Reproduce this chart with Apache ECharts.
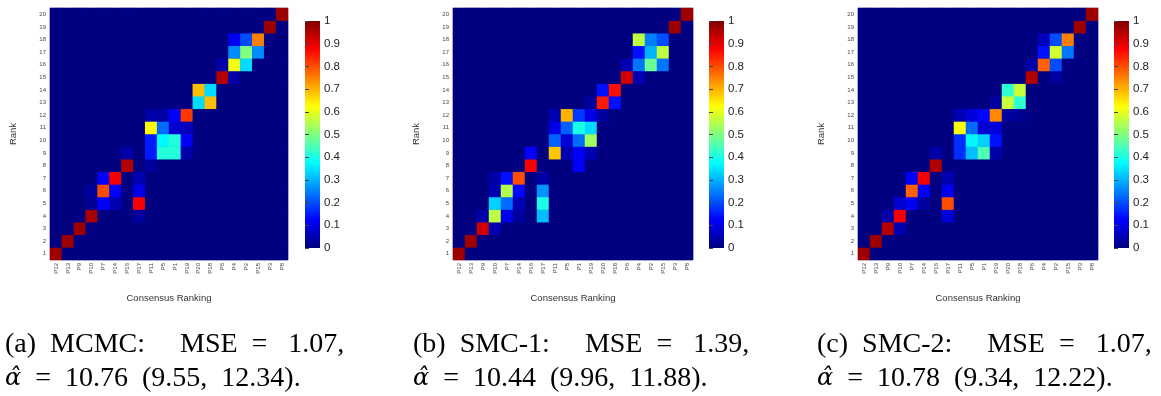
<!DOCTYPE html>
<html lang="en">
<head>
    <meta charset="UTF-8">
    <title>Heatplots</title>
    <script src="https://cdn.jsdelivr.net/npm/echarts@6/dist/echarts.min.js"></script>
    <style type="text/css">
    body { margin: 0; }
    .chart {
        width: 1161px;
        height: 396px;
    }
    </style>
</head>
<body>
    <div id="chart" class="chart"></div>
<script type="text/javascript">
var items = ['P12','P13','P9','P10','P7','P14','P16','P17','P11','P5','P1','P19','P20','P18','P6','P4','P2','P15','P3','P8'];
var ranks = ['1','2','3','4','5','6','7','8','9','10','11','12','13','14','15','16','17','18','19','20'];
var barTicks = [0, 1, 0.1];

// probabilities, only non-zero cells: [item, rank, value]
var mcmc = [
    ['P12',1,0.97],
    ['P13',2,0.97],
    ['P9',3,0.97],
    ['P10',4,0.96],['P17',4,0.03],
    ['P10',5,0.02],['P7',5,0.12],['P14',5,0.05],['P17',5,0.88],
    ['P10',6,0.03],['P7',6,0.8],['P14',6,0.12],['P17',6,0.1],
    ['P7',7,0.12],['P14',7,0.88],['P17',7,0.05],
    ['P16',8,0.95],['P11',8,0.03],
    ['P16',9,0.04],['P11',9,0.15],['P5',9,0.41],['P1',9,0.41],['P19',9,0.04],
    ['P11',10,0.15],['P5',10,0.37],['P1',10,0.41],['P19',10,0.12],
    ['P11',11,0.63],['P5',11,0.23],['P1',11,0.08],['P19',11,0.06],
    ['P11',12,0.04],['P5',12,0.04],['P1',12,0.12],['P19',12,0.82],
    ['P20',13,0.34],['P18',13,0.69],
    ['P20',14,0.69],['P18',14,0.34],
    ['P6',15,0.95],['P4',15,0.04],
    ['P6',16,0.04],['P4',16,0.61],['P2',16,0.34],
    ['P4',17,0.26],['P2',17,0.5],['P15',17,0.26],
    ['P4',18,0.11],['P2',18,0.2],['P15',18,0.75],
    ['P3',19,0.97],
    ['P8',20,0.97]
];
var smc1 = [
    ['P12',1,0.97],
    ['P13',2,0.97],
    ['P9',3,0.92],['P10',3,0.05],
    ['P9',4,0.04],['P10',4,0.56],['P7',4,0.1],['P14',4,0.03],['P17',4,0.31],
    ['P10',5,0.33],['P7',5,0.23],['P14',5,0.05],['P17',5,0.4],
    ['P10',6,0.05],['P7',6,0.55],['P14',6,0.13],['P17',6,0.27],
    ['P10',7,0.04],['P7',7,0.14],['P14',7,0.8],['P17',7,0.04],
    ['P16',8,0.88],['P1',8,0.12],
    ['P16',9,0.12],['P11',9,0.68],['P5',9,0.05],['P1',9,0.12],['P19',9,0.05],
    ['P11',10,0.22],['P5',10,0.08],['P1',10,0.23],['P19',10,0.53],
    ['P11',11,0.1],['P5',11,0.22],['P1',11,0.4],['P19',11,0.34],
    ['P11',12,0.05],['P5',12,0.7],['P1',12,0.18],['P19',12,0.1],['P20',12,0.03],
    ['P19',13,0.03],['P20',13,0.85],['P18',13,0.14],
    ['P20',14,0.14],['P18',14,0.86],
    ['P6',15,0.92],['P4',15,0.05],
    ['P6',16,0.05],['P4',16,0.24],['P2',16,0.48],['P15',16,0.24],
    ['P4',17,0.14],['P2',17,0.3],['P15',17,0.56],
    ['P4',18,0.56],['P2',18,0.25],['P15',18,0.2],
    ['P3',19,0.97],
    ['P8',20,0.97]
];
var smc2 = [
    ['P12',1,0.97],
    ['P13',2,0.97],
    ['P9',3,0.95],['P10',3,0.05],
    ['P9',4,0.04],['P10',4,0.88],['P17',4,0.09],
    ['P10',5,0.08],['P7',5,0.11],['P14',5,0.03],['P17',5,0.8],
    ['P7',6,0.78],['P14',6,0.12],['P17',6,0.11],
    ['P7',7,0.12],['P14',7,0.88],['P17',7,0.05],
    ['P16',8,0.95],
    ['P16',9,0.04],['P11',9,0.17],['P5',9,0.31],['P1',9,0.45],['P19',9,0.04],
    ['P11',10,0.17],['P5',10,0.37],['P1',10,0.33],['P19',10,0.14],
    ['P11',11,0.62],['P5',11,0.23],['P1',11,0.08],['P19',11,0.09],
    ['P11',12,0.05],['P5',12,0.09],['P1',12,0.13],['P19',12,0.74],['P20',12,0.03],['P18',12,0.02],
    ['P19',13,0.03],['P20',13,0.57],['P18',13,0.42],
    ['P20',14,0.42],['P18',14,0.57],
    ['P6',15,0.95],['P2',15,0.03],
    ['P6',16,0.04],['P4',16,0.78],['P2',16,0.2],
    ['P4',17,0.14],['P2',17,0.58],['P15',17,0.24],
    ['P4',18,0.06],['P2',18,0.2],['P15',18,0.75],
    ['P3',19,0.97],
    ['P8',20,0.97]
];
var captions = [
    ['(a)  MCMC:     MSE  =   1.07,', '10.76  (9.55,  12.34).'],
    ['(b)  SMC-1:     MSE  =   1.39,', '10.44  (9.96,  11.88).'],
    ['(c)  SMC-2:     MSE  =   1.07,', '10.78  (9.34,  12.22).']
];

var jet = ['#000080','#0000ff','#0080ff','#00ffff','#80ff80','#ffff00','#ff8000','#ff0000','#800000'];

// fill the whole 20x20 grid, cells not listed are zero
function toCells(list) {
    var cells = [];
    for (var i = 0; i < items.length; i++) {
        for (var j = 0; j < ranks.length; j++) {
            cells.push([i, j, 0]);
        }
    }
    list.forEach(function (d) {
        var i = items.indexOf(d[0]);
        cells[i * ranks.length + (d[1] - 1)][2] = d[2];
    });
    return cells;
}

var panels = [
    {data: mcmc, left: 50, width: 238, bar: 305},
    {data: smc1, left: 453, width: 240, bar: 709},
    {data: smc2, left: 858, width: 240, bar: 1114}
];

var grid = [], xAxis = [], yAxis = [], series = [], visualMap = [], title = [];
var lab = '#444';
panels.forEach(function (p, k) {
    grid.push({
        left: p.left, top: 8, width: p.width, height: 252,
        show: true, backgroundColor: '#000080', borderColor: '#c4c4e4', borderWidth: 1
    });
    xAxis.push({
        type: 'category', gridIndex: k, data: items,
        name: 'Consensus Ranking', nameLocation: 'middle', nameGap: 33,
        nameTextStyle: {fontSize: 9.5, color: '#333', fontFamily: 'Liberation Sans'},
        axisLine: {show: false},
        axisTick: {show: false},
        axisLabel: {rotate: 90, fontSize: 6, color: lab, margin: 3, fontFamily: 'Liberation Sans'}
    });
    yAxis.push({
        type: 'category', gridIndex: k, data: ranks,
        name: 'Rank', nameLocation: 'middle', nameGap: 32, nameRotate: 90,
        nameTextStyle: {fontSize: 9.5, color: '#333', fontFamily: 'Liberation Sans'},
        axisLine: {show: false},
        axisTick: {show: false},
        axisLabel: {fontSize: 6, color: lab, margin: 4, fontFamily: 'Liberation Sans'}
    });
    series.push({
        type: 'heatmap', xAxisIndex: k, yAxisIndex: k,
        data: toCells(p.data),
        itemStyle: {borderWidth: 0},
        emphasis: {disabled: true}
    });
    visualMap.push({
        type: 'continuous', seriesIndex: k, min: 0, max: 1,
        show: false,
        inRange: {color: jet}
    });
});

// colour bars: gradient of the same jet stops, with a 0..1 scale on the right
var barFill = new echarts.graphic.LinearGradient(0, 1, 0, 0, jet.map(function (c, i) {
    return {offset: i / (jet.length - 1), color: c};
}));
panels.forEach(function (p, k) {
    grid.push({
        left: p.bar, top: 21, width: 15, height: 227,
        show: true, backgroundColor: barFill, borderWidth: 0
    });
    xAxis.push({type: 'value', gridIndex: 3 + k, show: false, min: 0, max: 1});
    yAxis.push({
        type: 'value', gridIndex: 3 + k, position: 'right',
        min: barTicks[0], max: barTicks[1], interval: barTicks[2],
        axisLine: {show: false},
        axisTick: {show: true, length: 4, lineStyle: {color: '#444'}},
        splitLine: {show: false},
        axisLabel: {fontSize: 11.5, color: '#222', margin: 4, fontFamily: 'Liberation Sans'}
    });
});

captions.forEach(function (c, k) {
    var x = [5, 413, 817][k];
    title.push({
        left: x, top: 331, padding: 0,
        text: c[0],
        textStyle: {fontFamily: 'Liberation Serif', fontWeight: 'normal', fontSize: 28, color: '#000'}
    });
    title.push({
        left: x, top: 365, padding: 0,
        text: '{a|α̂}  =  ' + c[1],
        textStyle: {
            fontFamily: 'Liberation Serif', fontWeight: 'normal', fontSize: 28, color: '#000',
            rich: {a: {fontStyle: 'italic', fontFamily: 'DejaVu Serif', fontSize: 24, color: '#000'}}
        }
    });
});

var myChart = echarts.init(document.getElementById('chart'));
myChart.setOption({
    animation: false,
    backgroundColor: '#fff',
    title: title,
    grid: grid,
    xAxis: xAxis,
    yAxis: yAxis,
    visualMap: visualMap,
    series: series
});
</script>
</body>
</html>
